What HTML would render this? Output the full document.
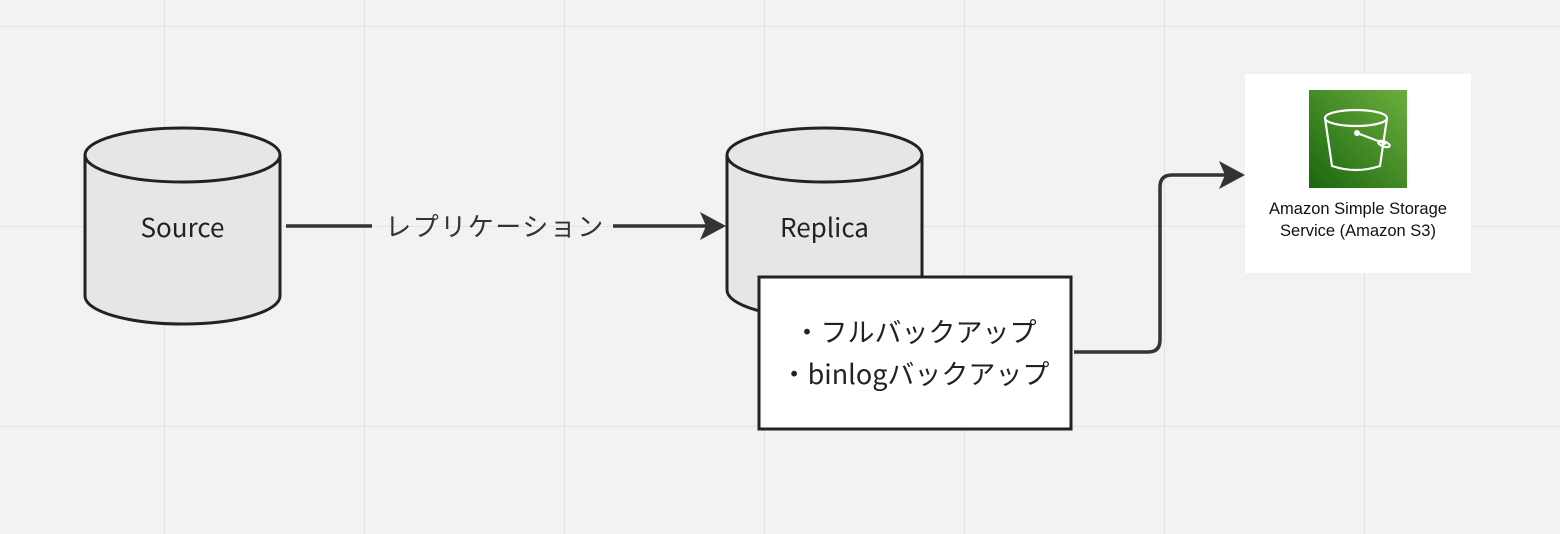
<!DOCTYPE html>
<html><head><meta charset="utf-8"><style>
html,body{margin:0;padding:0;width:1560px;height:534px;overflow:hidden;background:#f2f2f2}
svg{display:block}
</style></head><body>
<svg width="1560" height="534" viewBox="0 0 1560 534" xmlns="http://www.w3.org/2000/svg">
<defs>
<pattern id="g" width="200" height="200" patternUnits="userSpaceOnUse" x="164" y="26">
<path d="M0 0V200M0 0H200" stroke="#e3e3e3" stroke-width="2" fill="none"/>
</pattern>
<linearGradient id="gr" x1="0" y1="1" x2="1" y2="0">
<stop offset="0" stop-color="#1b660f"/><stop offset="1" stop-color="#6cae3e"/>
</linearGradient>
</defs>
<rect width="1560" height="534" fill="url(#g)"/>
<g font-family="Noto Sans CJK JP, sans-serif">
<path d="M85 155 V296 A97.5 28 0 0 0 280 296 V155" fill="#e6e6e6" stroke="#222" stroke-width="3"/>
<ellipse cx="182.5" cy="155" rx="97.5" ry="27" fill="#e6e6e6" stroke="#222" stroke-width="3"/>
<text x="182.5" y="237" text-anchor="middle" font-size="26" fill="#222">Source</text>
<path d="M727 155 V290 A97.5 28 0 0 0 922 290 V155" fill="#e6e6e6" stroke="#222" stroke-width="3"/>
<ellipse cx="824.5" cy="155" rx="97.5" ry="27" fill="#e6e6e6" stroke="#222" stroke-width="3"/>
<text x="824.5" y="237" text-anchor="middle" font-size="26" fill="#222">Replica</text>
<path d="M286 226 H372 M613 226 H712" stroke="#333" stroke-width="3.5" fill="none"/>
<path d="M700 212 L726 226 L700 240 L706 226 Z" fill="#333"/>
<text x="495" y="236" text-anchor="middle" font-size="26" letter-spacing="1.5" fill="#333">レプリケーション</text>
<rect x="759" y="277" width="312" height="152" fill="#fff" stroke="#222" stroke-width="3"/>
<text x="915" y="342" text-anchor="middle" font-size="27" fill="#222">・フルバックアップ</text>
<text x="915" y="384" text-anchor="middle" font-size="27" fill="#222">・binlogバックアップ</text>
</g>
<path d="M1074 352 H1148 Q1160 352 1160 340 V187 Q1160 175 1172 175 H1230" stroke="#333" stroke-width="3.5" fill="none"/>
<path d="M1219 161 L1245 175 L1219 189 L1225 175 Z" fill="#333"/>
<rect x="1245" y="74" width="226" height="199" fill="#fff"/>
<rect x="1309" y="90" width="98" height="98" fill="url(#gr)"/>
<g stroke="#fff" stroke-width="2.2" fill="none">
<ellipse cx="1356" cy="118" rx="31" ry="8"/>
<path d="M1325 118 L1332 166 Q1356 174 1380 166 L1387 118"/>
<path d="M1357 133 L1386 144" />
<ellipse cx="1384" cy="144" rx="6" ry="2.5" transform="rotate(20 1384 144)"/>
</g>
<circle cx="1357" cy="133" r="3" fill="#fff"/>
<text x="1358" y="214" text-anchor="middle" font-family="Liberation Sans, sans-serif" font-size="16.5" fill="#111">Amazon Simple Storage</text>
<text x="1358" y="236" text-anchor="middle" font-family="Liberation Sans, sans-serif" font-size="16.5" fill="#111">Service (Amazon S3)</text>
</svg>
</body></html>
